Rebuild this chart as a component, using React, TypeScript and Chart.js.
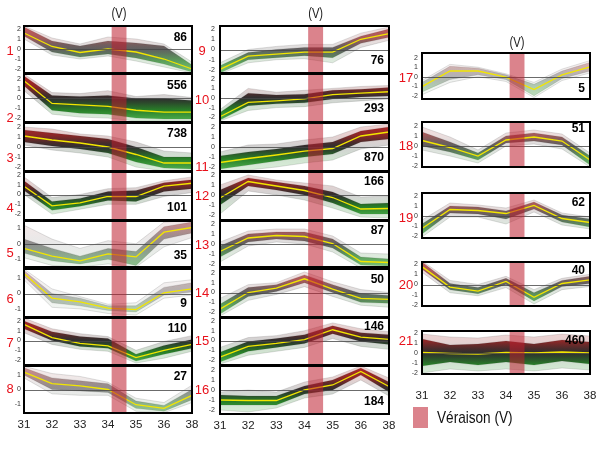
import React, { useEffect, useRef } from "react";
import { Chart, registerables } from "chart.js";

Chart.register(...registerables);

// ---------------- DATA ----------------
const xLabels = ["31", "32", "33", "34", "35", "36", "38"];
const clusterIds = [1, 2, 3, 4, 5, 6, 7, 8, 9, 10, 11, 12, 13, 14, 15, 16, 17, 18, 19, 20, 21];
const clusterSizes = [86, 556, 738, 101, 35, 9, 110, 27, 76, 293, 870, 166, 87, 50, 146, 184, 5, 51, 62, 40, 460];
const yTicksWide = [-2, -1, 0, 1, 2];
const yTicksNarrow = [-1, 0, 1];
// véraison band, in category positions (between stage 34 and 35)
const veraisonSpan = [3.13, 3.66];
const veraisonMark = "(V)";
const legendLabel = "Véraison (V)";

// cluster mean profiles (yellow lines)
const meanProfiles = [
  [1.6, 0.25, -0.35, 0.0, -0.3, -1.0, -2.0],
  [1.8, -0.5, -0.65, -0.8, -1.2, -1.4, -1.4],
  [1.1, 0.7, 0.4, 0.0, -0.75, -1.6, -1.6],
  [0.85, -1.15, -0.85, -0.2, -0.2, 0.85, 1.15],
  [-0.3, -0.8, -1.1, -0.65, -0.85, 0.75, 1.05],
  [1.3, -0.3, -0.55, -0.95, -1.05, 0.05, 0.3],
  [1.65, 0.3, -0.3, -0.55, -1.75, -1.0, -0.4],
  [1.2, 0.4, 0.25, 0.0, -1.05, -1.3, -0.4],
  [-1.95, -0.65, -0.45, -0.25, -0.25, 1.0, 1.55],
  [-1.95, -0.45, -0.3, -0.1, 0.35, 0.5, 0.65],
  [-1.55, -1.15, -0.8, -0.42, -0.15, 1.1, 1.5],
  [-0.3, 1.35, 0.9, 0.45, -0.25, -1.4, -1.35],
  [-0.75, 0.6, 0.85, 0.75, 0.05, -1.75, -1.85],
  [-1.7, 0.0, 0.45, 1.4, 0.35, -0.6, -0.7],
  [-1.7, -0.6, -0.3, 0.1, 1.1, 0.35, 0.12],
  [-1.0, -1.05, -1.05, 0.0, 0.5, 1.85, 0.35],
  [-1.05, 0.6, 0.6, -0.05, -1.35, 0.2, 1.05],
  [0.55, -0.15, -1.0, 0.6, 0.9, 0.5, -1.4],
  [-1.25, 0.65, 0.55, 0.25, 1.05, -0.25, -0.65],
  [1.75, -0.25, -0.65, 0.3, -1.25, 0.1, 0.45],
  [0.05, -0.05, -0.1, 0.05, 0.0, 0.1, 0.0],
];

// dense core of each cluster (upper / lower edge)
const innerUpper = [
  [2.2, 0.8, 0.3, 0.8, 0.6, 0.3, -1.6],
  [2.3, 0.3, 0.2, 0.3, 0.0, 0.0, -0.2],
  [1.7, 1.4, 1.1, 0.8, 0.0, -1.0, -1.0],
  [1.4, -0.7, -0.4, 0.3, 0.4, 1.2, 1.5],
  [0.3, -0.3, -0.8, -0.3, -0.5, 1.1, 1.4],
  [1.5, 0.0, -0.3, -0.8, -0.8, 0.4, 0.7],
  [2.0, 0.9, 0.4, 0.2, -1.4, -0.5, 0.1],
  [1.5, 0.8, 0.6, 0.4, -0.8, -1.1, 0.0],
  [-1.6, -0.3, 0.0, 0.2, 0.2, 1.3, 2.0],
  [-1.5, 0.5, 0.3, 0.4, 0.8, 0.9, 1.1],
  [-0.9, -0.5, -0.2, 0.2, 0.5, 1.6, 2.0],
  [0.5, 1.7, 1.3, 0.9, 0.3, -0.9, -0.8],
  [-0.2, 1.0, 1.2, 1.2, 0.5, -1.3, -1.5],
  [-1.2, 0.5, 0.8, 1.8, 0.8, -0.1, -0.3],
  [-1.2, -0.1, 0.2, 0.6, 1.5, 0.8, 0.6],
  [-0.5, -0.6, -0.6, 0.4, 1.0, 2.2, 0.8],
  [-0.6, 1.1, 0.9, 0.2, -0.8, 0.6, 1.5],
  [1.4, 0.4, -0.7, 1.0, 1.3, 0.9, -1.0],
  [-0.8, 1.0, 0.9, 0.5, 1.4, 0.1, -0.3],
  [2.2, 0.1, -0.3, 0.6, -0.8, 0.4, 0.8],
  [1.4, 0.8, 0.9, 1.2, 0.9, 1.3, 1.1],
];
const innerLower = [
  [1.3, -0.3, -0.8, -0.5, -0.9, -1.5, -2.3],
  [1.3, -1.2, -1.5, -1.6, -2.0, -2.1, -2.1],
  [0.5, 0.1, -0.2, -0.6, -1.5, -2.1, -2.2],
  [0.4, -1.6, -1.2, -0.6, -0.7, 0.3, 0.6],
  [-0.6, -1.1, -1.3, -1.0, -1.4, 0.3, 0.7],
  [1.1, -0.6, -0.8, -1.1, -1.2, -0.1, 0.1],
  [1.2, 0.0, -0.6, -0.8, -2.1, -1.4, -0.8],
  [1.0, 0.0, -0.1, -0.2, -1.3, -1.5, -0.7],
  [-2.3, -1.0, -0.8, -0.6, -0.8, 0.6, 1.2],
  [-2.3, -0.8, -0.6, -0.5, -0.1, 0.1, 0.2],
  [-2.2, -1.8, -1.4, -1.0, -0.7, 0.5, 0.8],
  [-1.0, 0.9, 0.5, 0.0, -0.8, -1.9, -1.9],
  [-1.3, 0.2, 0.5, 0.3, -0.4, -2.1, -2.2],
  [-2.2, -0.4, 0.1, 1.0, 0.0, -1.0, -1.1],
  [-2.2, -1.1, -0.7, -0.3, 0.7, -0.1, -0.4],
  [-1.5, -1.5, -1.5, -0.4, 0.0, 1.5, -0.2],
  [-1.6, -0.3, 0.2, -0.3, -2.0, -0.2, 0.6],
  [0.0, -0.6, -1.4, 0.3, 0.5, 0.1, -1.9],
  [-1.8, 0.3, 0.2, -0.3, 0.7, -0.6, -1.1],
  [1.5, -0.5, -0.9, 0.0, -1.6, -0.2, 0.1],
  [-1.3, -0.9, -1.2, -0.9, -1.2, -0.8, -1.1],
];

// faint spread of each cluster (outermost profiles)
const outerUpper = [
  [2.3, 1.1, 0.5, 1.2, 1.0, 0.5, -1.3],
  [2.5, 0.6, 0.5, 0.8, 0.2, 0.4, 0.1],
  [2.0, 1.8, 1.3, 1.1, 0.5, -0.4, -0.6],
  [1.8, -0.3, 0.0, 0.6, 0.7, 1.4, 1.8],
  [1.2, 0.3, -0.3, 0.2, 0.0, 1.4, 1.5],
  [1.6, 0.3, -0.2, -0.7, -0.6, 0.7, 0.9],
  [2.3, 1.2, 0.7, 0.4, -1.0, -0.1, 0.5],
  [1.6, 1.1, 0.9, 0.5, -0.6, -0.9, 0.3],
  [-1.3, 0.0, 0.3, 0.5, 0.5, 1.6, 2.2],
  [-1.2, 1.0, 0.6, 0.8, 1.0, 1.2, 1.3],
  [-0.5, 0.2, 0.3, 0.7, 1.0, 2.0, 2.3],
  [1.0, 2.0, 1.5, 1.2, 0.9, -0.2, -0.1],
  [0.2, 1.3, 1.5, 1.5, 0.8, -0.9, -1.0],
  [-0.6, 0.8, 1.0, 2.1, 1.1, 0.3, 0.0],
  [-0.7, 0.3, 0.5, 1.0, 1.8, 1.2, 0.9],
  [-0.2, 0.0, -0.2, 0.8, 1.3, 2.4, 1.2],
  [-0.4, 1.3, 1.0, 0.3, -0.6, 0.8, 1.7],
  [1.9, 0.9, -0.4, 1.3, 1.6, 1.2, -0.7],
  [-0.4, 1.3, 1.1, 0.8, 1.6, 0.3, -0.1],
  [2.3, 0.4, 0.0, 0.8, -0.5, 0.6, 1.0],
  [1.9, 1.6, 1.5, 1.8, 1.6, 1.9, 1.7],
];
const outerLower = [
  [1.0, -0.6, -1.0, -0.7, -1.2, -1.8, -2.4],
  [0.8, -1.6, -1.9, -2.0, -2.3, -2.3, -2.3],
  [0.2, -0.3, -0.6, -1.0, -2.0, -2.4, -2.4],
  [0.0, -2.0, -1.5, -1.0, -1.0, -0.2, 0.2],
  [-0.9, -1.4, -1.5, -1.3, -1.5, -0.2, 0.4],
  [0.9, -0.9, -1.0, -1.3, -1.4, -0.3, -0.1],
  [0.8, -0.4, -0.9, -1.1, -2.3, -1.8, -1.1],
  [0.8, -0.3, -0.4, -0.4, -1.5, -1.6, -0.9],
  [-2.4, -1.3, -1.0, -0.9, -1.3, 0.2, 0.9],
  [-2.4, -1.3, -1.0, -0.9, -0.5, -0.3, -0.1],
  [-2.4, -2.3, -2.0, -1.6, -1.3, -0.2, 0.2],
  [-1.9, 0.4, 0.0, -0.5, -1.3, -2.2, -2.3],
  [-1.8, -0.2, 0.2, 0.0, -0.8, -2.4, -2.4],
  [-2.4, -0.8, -0.2, 0.6, -0.4, -1.3, -1.5],
  [-2.4, -1.5, -1.1, -0.7, 0.2, -0.6, -0.9],
  [-2.0, -2.2, -1.8, -0.8, -0.4, 1.0, -0.6],
  [-1.9, -0.6, 0.0, -0.5, -2.2, -0.4, 0.4],
  [-0.4, -1.0, -1.7, 0.0, 0.2, -0.3, -2.1],
  [-2.1, -0.1, -0.1, -0.8, 0.4, -0.9, -1.3],
  [1.2, -0.8, -1.1, -0.3, -1.9, -0.5, -0.2],
  [-2.0, -1.6, -1.8, -1.6, -1.8, -1.5, -1.7],
];

// ---------------- LAYOUT / STYLE ----------------
const AXIS_W = 24;
const PAD_R = 10;
const PAD_B = 3;
const COLUMNS = [
  { plotLeft: 24, plotRight: 192, numberX: 10, xAxisH: 20, xTickPad: 5, yTickPad: 3, vY: 14 },
  { plotLeft: 220, plotRight: 389, numberX: 202, xAxisH: 20, xTickPad: 5, yTickPad: 5, vY: 14 },
  { plotLeft: 422, plotRight: 590, numberX: 406, xAxisH: 32, xTickPad: 15, yTickPad: 4, vY: 43 },
];
// col, plot top/bottom (px), y range, narrow ticks, number y, count y, first / last in column
const PANELS = [
  { col: 0, top: 26, bottom: 73, yMin: -2.4, yMax: 2.3, narrow: false, numY: 51, cntY: 38, first: true },
  { col: 0, top: 74, bottom: 122, yMin: -2.4, yMax: 2.5, narrow: false, numY: 118, cntY: 86 },
  { col: 0, top: 123, bottom: 171, yMin: -2.4, yMax: 2.4, narrow: false, numY: 158, cntY: 134 },
  { col: 0, top: 172, bottom: 220, yMin: -2.6, yMax: 2.3, narrow: false, numY: 208, cntY: 208 },
  { col: 0, top: 221, bottom: 267, yMin: -1.5, yMax: 1.47, narrow: true, numY: 253, cntY: 256 },
  { col: 0, top: 269, bottom: 317, yMin: -1.53, yMax: 1.6, narrow: true, numY: 299, cntY: 304 },
  { col: 0, top: 318, bottom: 365, yMin: -2.5, yMax: 2.3, narrow: false, numY: 343, cntY: 329 },
  { col: 0, top: 366, bottom: 413, yMin: -1.62, yMax: 1.62, narrow: true, numY: 389, cntY: 377, last: true },
  { col: 1, top: 26, bottom: 73, yMin: -2.3, yMax: 2.3, narrow: false, numY: 51, cntY: 61, first: true },
  { col: 1, top: 74, bottom: 122, yMin: -2.5, yMax: 2.5, narrow: false, numY: 100, cntY: 109 },
  { col: 1, top: 123, bottom: 171, yMin: -2.4, yMax: 2.4, narrow: false, numY: 167, cntY: 158 },
  { col: 1, top: 172, bottom: 220, yMin: -2.5, yMax: 2.3, narrow: false, numY: 196, cntY: 182 },
  { col: 1, top: 221, bottom: 267, yMin: -2.3, yMax: 2.3, narrow: false, numY: 245, cntY: 231 },
  { col: 1, top: 269, bottom: 317, yMin: -2.5, yMax: 2.4, narrow: false, numY: 293, cntY: 280 },
  { col: 1, top: 318, bottom: 365, yMin: -2.5, yMax: 2.3, narrow: false, numY: 341, cntY: 327 },
  { col: 1, top: 366, bottom: 414, yMin: -2.4, yMax: 2.4, narrow: false, numY: 390, cntY: 402, last: true },
  { col: 2, top: 53, bottom: 99, yMin: -2.35, yMax: 2.5, narrow: false, numY: 78, cntY: 89, first: true },
  { col: 2, top: 122, bottom: 167, yMin: -2.1, yMax: 2.4, narrow: false, numY: 146, cntY: 129 },
  { col: 2, top: 193, bottom: 238, yMin: -2.2, yMax: 2.3, narrow: false, numY: 218, cntY: 203 },
  { col: 2, top: 262, bottom: 306, yMin: -2.1, yMax: 2.2, narrow: false, numY: 285, cntY: 271 },
  { col: 2, top: 331, bottom: 374, yMin: -2.1, yMax: 2.2, narrow: false, numY: 341, cntY: 341, last: true },
];

const BASE_FONT = '"Liberation Sans", Arial, sans-serif';
Chart.defaults.font.family = BASE_FONT;

const INK_STOPS: [number, number[]][] = [
  [2.4, [175, 10, 10]],
  [1.2, [125, 10, 10]],
  [0.4, [45, 15, 15]],
  [0, [18, 18, 18]],
  [-0.4, [15, 45, 15]],
  [-1.2, [10, 110, 10]],
  [-2.4, [60, 170, 60]],
];

function inkGradient(chart: any, alpha: number) {
  const { ctx, chartArea, scales } = chart;
  if (!chartArea || !scales.y) return `rgba(20,20,20,${alpha})`;
  const top = scales.y.getPixelForValue(2.4);
  const bot = scales.y.getPixelForValue(-2.4);
  const g = ctx.createLinearGradient(0, top, 0, bot);
  for (const [v, c] of INK_STOPS) {
    g.addColorStop((2.4 - v) / 4.8, `rgba(${c[0]},${c[1]},${c[2]},${alpha})`);
  }
  return g;
}

function densityAlpha(n: number) {
  if (n >= 100) return 0.85;
  if (n >= 40) return 0.62;
  if (n >= 20) return 0.42;
  return 0.28;
}

const decorPlugin = {
  id: "panelDecor",
  afterDatasetsDraw(chart: any, _args: any, o: any) {
    const { ctx, chartArea: a, scales } = chart;
    const x = scales.x;
    const y = scales.y;
    ctx.save();
    // zero line
    const y0 = Math.round(y.getPixelForValue(0)) + 0.5;
    ctx.strokeStyle = "rgba(70,70,70,0.8)";
    ctx.lineWidth = 1;
    ctx.beginPath();
    ctx.moveTo(a.left, y0);
    ctx.lineTo(a.right, y0);
    ctx.stroke();
    // véraison band
    const bx0 = x.getPixelForValue(o.band[0]);
    const bx1 = x.getPixelForValue(o.band[1]);
    ctx.fillStyle = "rgba(190,30,45,0.55)";
    ctx.fillRect(bx0, a.top, bx1 - bx0, a.bottom - a.top);
    // frame
    ctx.strokeStyle = "#000";
    ctx.lineWidth = 2;
    ctx.strokeRect(a.left, a.top, a.right - a.left, a.bottom - a.top);
    // cluster size
    ctx.fillStyle = "#000";
    ctx.font = `bold 12px ${BASE_FONT}`;
    ctx.textAlign = "right";
    ctx.textBaseline = "middle";
    ctx.fillText(String(o.count), a.right - 5, o.countY);
    // cluster number
    ctx.fillStyle = "#e8101a";
    ctx.font = `13px ${BASE_FONT}`;
    ctx.textAlign = "center";
    ctx.fillText(String(o.id), o.numberX, o.numberY);
    // (V) mark above the column, condensed
    if (o.vY != null) {
      ctx.fillStyle = "#222";
      ctx.font = `14px ${BASE_FONT}`;
      ctx.textAlign = "center";
      ctx.translate((bx0 + bx1) / 2, o.vY);
      ctx.scale(0.8, 1);
      ctx.fillText(veraisonMark, 0, 0);
    }
    ctx.restore();
  },
};

function geometry(i: number) {
  const p = PANELS[i];
  const col = COLUMNS[p.col];
  const left = col.plotLeft - AXIS_W;
  const width = col.plotRight - col.plotLeft + AXIS_W + PAD_R;
  const padTop = p.first ? p.top - (col.vY - 12) : 3;
  const top = p.top - padTop;
  const xH = p.last ? col.xAxisH : 0;
  const height = padTop + (p.bottom - p.top) + PAD_B + xH;
  return { p, col, left, width, padTop, top, xH, height };
}

function zeroScalePadding(s: any) {
  s.paddingTop = 0;
  s.paddingBottom = 0;
  s.paddingLeft = 0;
  s.paddingRight = 0;
}

function Panel({ index }: { index: number }) {
  const ref = useRef<HTMLCanvasElement | null>(null);
  const g = geometry(index);
  useEffect(() => {
    const { p, col, left, padTop, top, xH } = g;
    const n = clusterSizes[index];
    const a = densityAlpha(n);
    const common = { pointRadius: 0, tension: 0 };
    const chart = new Chart(ref.current as HTMLCanvasElement, {
      type: "line",
      data: {
        labels: xLabels,
        datasets: [
          { label: "mean", data: meanProfiles[index], borderColor: "#f2e600", borderWidth: 1.3, fill: false, ...common },
          {
            label: "core upper",
            data: innerUpper[index],
            borderColor: "rgba(40,40,40,0.22)",
            borderWidth: 0.6,
            fill: "+1",
            backgroundColor: (c: any) => inkGradient(c.chart, a),
            ...common,
          },
          { label: "core lower", data: innerLower[index], borderColor: "rgba(40,40,40,0.22)", borderWidth: 0.6, fill: false, ...common },
          {
            label: "spread upper",
            data: outerUpper[index],
            borderColor: "rgba(120,120,120,0.4)",
            borderWidth: 0.6,
            fill: "+1",
            backgroundColor: (c: any) => inkGradient(c.chart, a * 0.22),
            ...common,
          },
          { label: "spread lower", data: outerLower[index], borderColor: "rgba(120,120,120,0.4)", borderWidth: 0.6, fill: false, ...common },
        ],
      },
      options: {
        responsive: false,
        animation: false,
        devicePixelRatio: 1,
        events: [],
        layout: { padding: { left: 0, right: PAD_R, top: padTop, bottom: PAD_B } },
        plugins: {
          legend: { display: false },
          tooltip: { enabled: false },
          panelDecor: {
            band: veraisonSpan,
            count: n,
            countY: p.cntY - top,
            id: clusterIds[index],
            numberX: col.numberX - left,
            numberY: p.numY - top,
            vY: p.first ? col.vY - top : null,
          },
        } as any,
        scales: {
          x: {
            type: "category",
            display: !!p.last,
            offset: false,
            grid: { display: false, drawTicks: false },
            border: { display: false },
            ticks: {
              autoSkip: false,
              maxRotation: 0,
              padding: col.xTickPad,
              color: "#222",
              font: { size: 11.5 },
            },
            afterFit: (s: any) => {
              s.height = xH;
              zeroScalePadding(s);
            },
          },
          y: {
            type: "linear",
            min: p.yMin,
            max: p.yMax,
            grid: { display: false, drawTicks: false },
            border: { display: false },
            ticks: { padding: col.yTickPad, color: "#333", font: { size: 7 }, autoSkip: false },
            afterBuildTicks: (s: any) => {
              s.ticks = (p.narrow ? yTicksNarrow : yTicksWide).map((v) => ({ value: v }));
            },
            afterFit: (s: any) => {
              s.width = AXIS_W;
              zeroScalePadding(s);
            },
          },
        },
      } as any,
      plugins: [decorPlugin as any],
    });
    return () => chart.destroy();
  }, []);
  return (
    <canvas
      ref={ref}
      width={g.width}
      height={g.height}
      style={{ position: "absolute", left: g.left, top: g.top, width: g.width, height: g.height }}
    />
  );
}

export default function App() {
  return (
    <div
      style={{
        position: "fixed",
        left: 0,
        top: 0,
        width: 600,
        height: 450,
        background: "#fff",
        overflow: "hidden",
      }}
    >
      {PANELS.map((_, i) => (
        <Panel key={i} index={i} />
      ))}
      <div
        style={{
          position: "absolute",
          left: 413,
          top: 407,
          width: 15,
          height: 21,
          background: "rgb(219,131,140)",
        }}
      />
      <div
        style={{
          position: "absolute",
          left: 437,
          top: 407,
          height: 22,
          lineHeight: "22px",
          fontSize: 17,
          fontFamily: BASE_FONT,
          color: "#111",
          whiteSpace: "nowrap",
          transform: "scaleX(0.8)",
          transformOrigin: "left center",
        }}
      >
        {legendLabel}
      </div>
    </div>
  );
}
